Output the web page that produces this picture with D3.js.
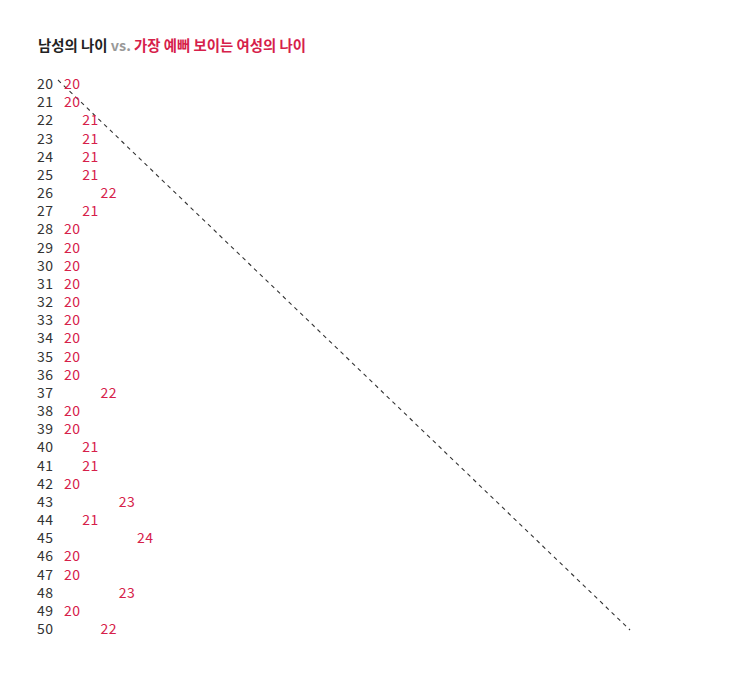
<!DOCTYPE html>
<html><head><meta charset="utf-8">
<script src="https://cdn.jsdelivr.net/npm/d3@7"></script>
<style>body{margin:0;background:#fff;}svg{display:block;font-family:"Noto Sans CJK KR","Noto Sans",sans-serif;}</style>
</head><body>
<script>
const menAges = d3.range(20, 51);
const womenAges = [20,20,21,21,21,21,22,21,20,20,20,20,20,20,20,20,20,22,20,20,21,21,20,23,21,24,20,20,23,20,22];
const titleParts = [
  {text: "남성의 나이 ", color: "#222"},
  {text: "vs. ", color: "#999"},
  {text: "가장 예뻐 보이는 여성의 나이", color: "#d6204a"}
];

const W = 740, H = 676;
const svg = d3.select("body").append("svg").attr("width", W).attr("height", H);

const y = d3.scaleLinear().domain([20, 50]).range([83, 628]);
const xLabel = d3.scaleLinear().domain([20, 24]).range([64, 137]);
const xLine = d3.scaleLinear().domain([20, 50]).range([58, 630]);
const yLine = d3.scaleLinear().domain([20, 50]).range([80, 630]);

const t = svg.append("text").attr("x", 38).attr("y", 44)
  .attr("dominant-baseline", "central")
  .style("font-size", "14.4px").style("font-weight", "700");
t.selectAll("tspan").data(titleParts).join("tspan")
  .attr("fill", d => d.color).text(d => d.text);

svg.append("line")
  .attr("x1", xLine(20)).attr("y1", yLine(20))
  .attr("x2", xLine(50)).attr("y2", yLine(50))
  .attr("stroke", "#333").attr("stroke-width", 1.1)
  .attr("stroke-dasharray", "4,4");

svg.selectAll("text.men").data(menAges).join("text")
  .attr("class", "men")
  .attr("x", 37).attr("y", d => y(d))
  .attr("dominant-baseline", "central")
  .style("font-size", "14px").style("letter-spacing", "0.5px").attr("fill", "#333")
  .text(d => d);

svg.selectAll("text.women").data(menAges.map((m, i) => ({m, w: womenAges[i]}))).join("text")
  .attr("class", "women")
  .attr("x", d => xLabel(d.w)).attr("y", d => y(d.m))
  .attr("dominant-baseline", "central")
  .style("font-size", "14px").style("letter-spacing", "0.5px").attr("fill", "#d6204a")
  .text(d => d.w);
</script>
</body></html>
